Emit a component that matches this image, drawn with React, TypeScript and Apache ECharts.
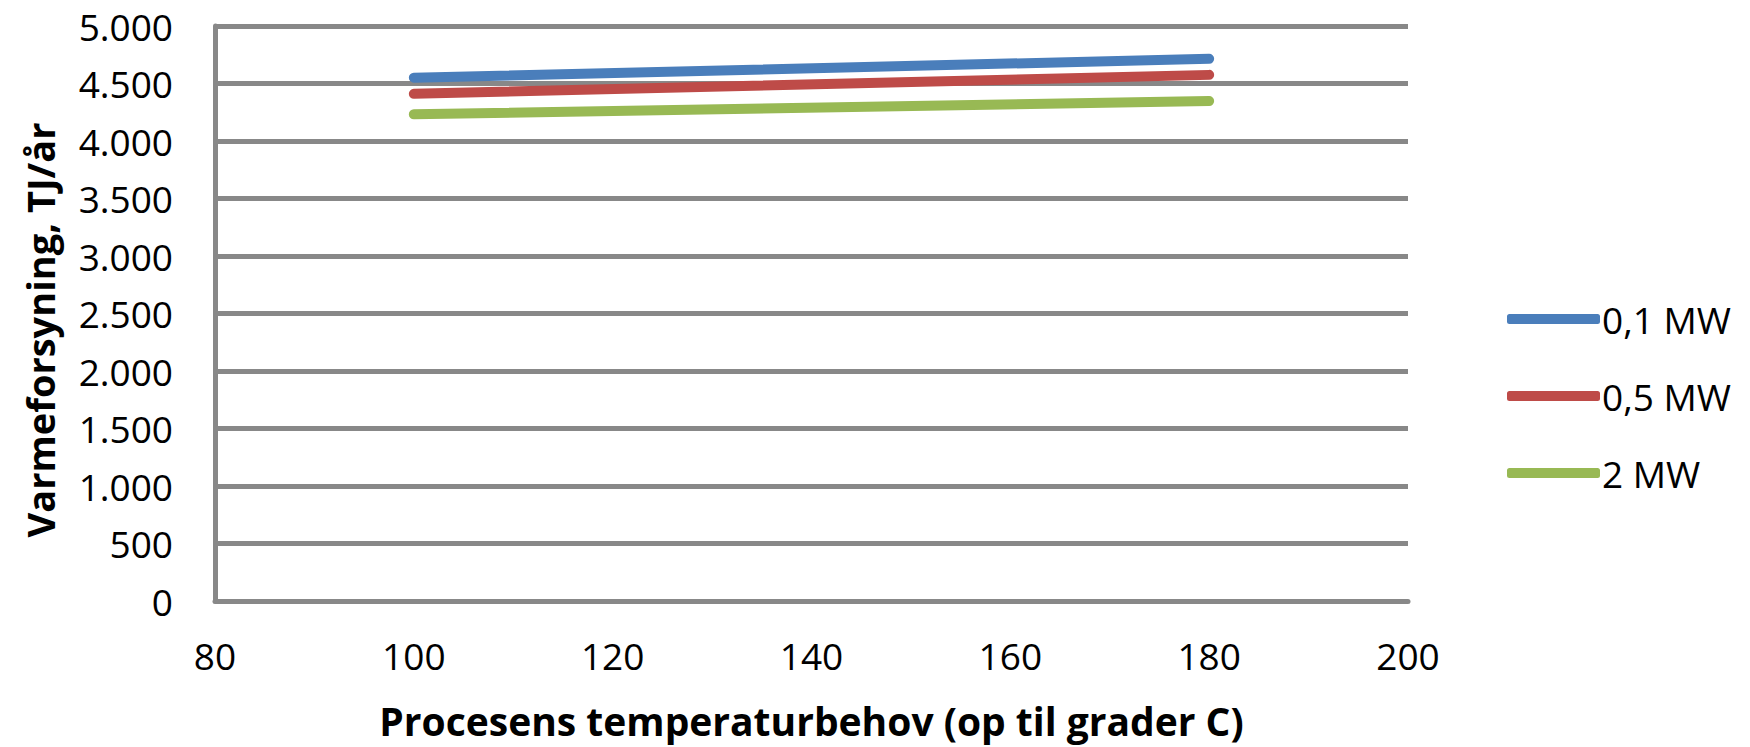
import React, { useEffect, useRef } from "react";
import * as echarts from "echarts";

const temperatures = [100, 180];
const series01 = [4550, 4715];
const series05 = [4410, 4575];
const series2 = [4232, 4348];
const seriesNames = ["0,1 MW", "0,5 MW", "2 MW"];
const seriesColors = ["#4A7EBB", "#BE4B48", "#98B954"];
const xTitle = "Procesens temperaturbehov (op til grader C)";
const yTitle = "Varmeforsyning, TJ/år";

const FONT = "'Open Sans', sans-serif";

export default function App() {
  const ref = useRef<HTMLDivElement>(null);
  useEffect(() => {
    if (!ref.current) return;
    const chart = echarts.init(ref.current, undefined, { renderer: "svg" });
    const datasets = [series01, series05, series2];
    chart.setOption({
      animation: false,
      backgroundColor: "#ffffff",
      grid: { left: 215, top: 26, right: 342, bottom: 146, containLabel: false },
      legend: {
        orient: "vertical",
        left: 1502,
        top: 294,
        icon: "roundRect",
        itemWidth: 93,
        itemHeight: 10,
        itemGap: 37,
        textStyle: { fontFamily: FONT, fontSize: 37, color: "#000", lineHeight: 40, padding: [0, 0, 0, -3] },
        data: seriesNames,
      },
      xAxis: {
        type: "value",
        min: 80,
        max: 200,
        interval: 20,
        name: xTitle,
        nameLocation: "middle",
        nameGap: 100,
        nameTextStyle: { fontFamily: FONT, fontSize: 39, fontWeight: "bold", color: "#000" },
        axisLine: { show: true, onZero: false, lineStyle: { color: "#888888", width: 5 } },
        axisTick: { show: false },
        splitLine: { show: false },
        axisLabel: { fontFamily: FONT, fontSize: 37, color: "#000", margin: 36 },
      },
      yAxis: {
        type: "value",
        min: 0,
        max: 5000,
        interval: 500,
        axisLine: { show: true, lineStyle: { color: "#888888", width: 5 } },
        axisTick: { show: false },
        splitLine: { show: true, lineStyle: { color: "#888888", width: 5 } },
        axisLabel: {
          fontFamily: FONT,
          fontSize: 37,
          color: "#000",
          margin: 42,
          formatter: (v: number) => (v >= 1000 ? `${Math.floor(v / 1000)}.${String(v % 1000).padStart(3, "0")}` : String(v)),
        },
      },
      graphic: [
        {
          type: "text",
          x: 40,
          y: 330,
          rotation: Math.PI / 2,
          style: {
            text: yTitle,
            fontFamily: FONT,
            fontSize: 38,
            fontWeight: "bold",
            fill: "#000",
            textAlign: "center",
            textVerticalAlign: "middle",
          },
        },
      ],
      series: datasets.map((d, i) => ({
        name: seriesNames[i],
        type: "line",
        data: temperatures.map((t, j) => [t, d[j]]),
        showSymbol: false,
        symbol: "none",
        color: seriesColors[i],
        itemStyle: { color: seriesColors[i] },
        lineStyle: { color: seriesColors[i], width: 10, cap: "round" },
      })),
    });
    return () => chart.dispose();
  }, []);
  return <div ref={ref} style={{ position: "fixed", left: 0, top: 0, width: 1750, height: 747 }} />;
}
